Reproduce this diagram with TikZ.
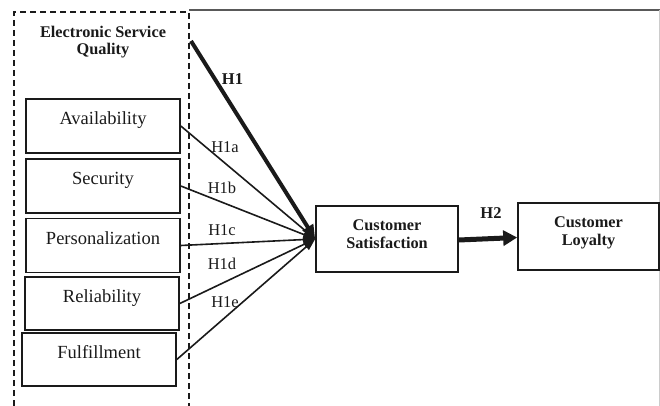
\documentclass[tikz,border=0pt]{standalone}
\usepackage{fontspec}
\setmainfont{Liberation Serif}
\usetikzlibrary{arrows.meta}
\definecolor{ink}{HTML}{1A1A1A}
\tikzset{
  dimbox/.style={draw=ink, line width=1.6pt, minimum width=154pt, minimum height=54pt,
    inner sep=0pt, text height=13pt, text depth=16pt, text=ink,
    font=\fontsize{18.5}{20}\selectfont},
  bigbox/.style={draw=ink, line width=1.6pt, inner sep=0pt, align=center, text=ink,
    text height=29pt, text depth=11pt,
    font=\fontsize{16.3}{18}\selectfont\bfseries},
  conn/.style={draw=ink, line width=1.6pt, -{Triangle[length=12pt,width=8pt]}},
  hlab/.style={inner sep=0pt, text=ink, font=\fontsize{16.5}{18}\selectfont},
  hlabb/.style={inner sep=0pt, text=ink, font=\fontsize{16.5}{18}\selectfont\bfseries},
}
\begin{document}
\begin{tikzpicture}[x=1pt,y=-1pt]
\useasboundingbox (0,0) rectangle (660,406);
% frame
\draw[color=black!65, line width=1.5pt] (189,10) -- (660,10);
\draw[color=black!20, line width=1pt] (659,10) -- (659,406);
% dashed grouping box
\draw[ink, line width=2pt, dash pattern=on 6pt off 4pt] (14,406) -- (14,12) -- (189,12) -- (189,406);
\node[inner sep=0pt, align=center, text=ink, font=\fontsize{16.3}{17.5}\selectfont\bfseries] (esq) at (103,42) {Electronic Service\\Quality};
\coordinate (h1s) at (191,41);
% dimension boxes
\node[dimbox] (av) at (103,126) {Availability};
\node[dimbox] (se) at (103,186) {Security};
\node[dimbox] (pe) at (103,245.5) {Personalization};
\node[dimbox, minimum height=53pt] (re) at (102,303.5) {Reliability};
\node[dimbox, minimum height=53pt] (fu) at (99,359.5) {Fulfillment};
% outcome boxes
\node[bigbox, minimum width=142pt, minimum height=66pt] (cs) at (387,239) {Customer\\Satisfaction};
\node[bigbox, minimum width=141pt, minimum height=67pt, text depth=12pt] (cl) at (588.5,236.5) {Customer\\Loyalty};
% connectors
\draw[conn] (av.east) -- (cs.west);
\draw[conn] (se.east) -- (cs.west);
\draw[conn] (pe.east) -- (cs.west);
\draw[conn] (re.east) -- (cs.west);
\draw[conn] (fu.east) -- (cs.west);
\draw[draw=ink, line width=4pt, -{Triangle[length=14pt,width=12pt]}] (h1s) -- (cs.west);
\draw[draw=ink, line width=5pt, -{Triangle[length=14pt,width=15pt]}] ([yshift=-1pt]cs.east) -- ([yshift=-1pt]cl.west);
% labels
\node[hlabb] (lh1) at (232.5,79) {H1};
\node[hlab] (lh1a) at (225,147) {H1a};
\node[hlab] (lh1b) at (222,188) {H1b};
\node[hlab] (lh1c) at (222,230) {H1c};
\node[hlab] (lh1d) at (222,264) {H1d};
\node[hlab] (lh1e) at (225,302) {H1e};
\node[hlabb] (lh2) at (491,213) {H2};
\end{tikzpicture}
\end{document}
